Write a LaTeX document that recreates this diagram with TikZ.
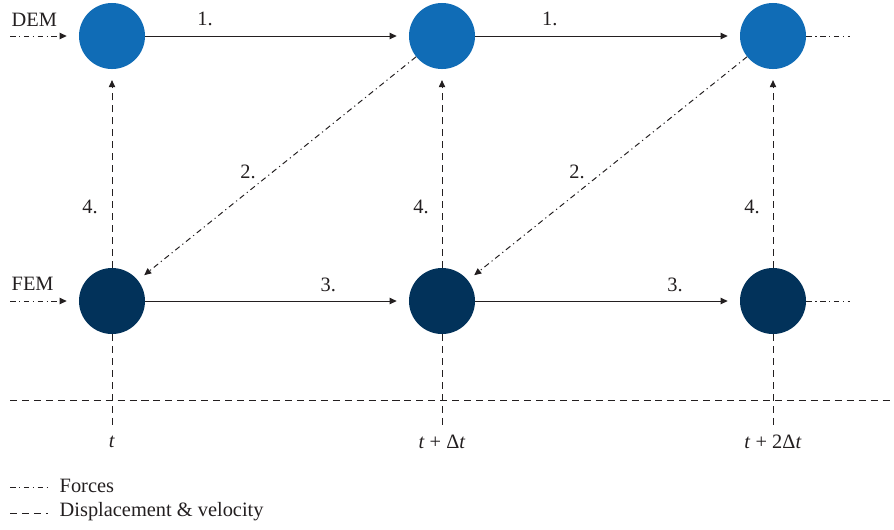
\documentclass[tikz,border=0pt]{standalone}
\usepackage{fontspec}
\setmainfont{Liberation Serif}
\usetikzlibrary{arrows.meta}
\definecolor{DEMBlue}{HTML}{106CB6}
\definecolor{FEMNavy}{HTML}{02325A}
\definecolor{LineDark}{HTML}{231F20}

\tikzset{
  demnode/.style={circle,fill=DEMBlue,minimum size=1.65cm,inner sep=0pt},
  femnode/.style={circle,fill=FEMNavy,minimum size=1.65cm,inner sep=0pt},
  lbl/.style={font=\fontsize{14.5}{17}\selectfont,text=LineDark,inner sep=1pt},
  solidline/.style={LineDark,line width=0.7pt},
  forces/.style={LineDark,line width=0.7pt,dash pattern=on 4pt off 2.5pt on 0.8pt off 2.5pt},
  dispvel/.style={LineDark,line width=0.7pt,dash pattern=on 5pt off 3.5pt},
  tip/.style={-{Triangle[length=5pt,width=4.5pt]}},
}

\begin{document}
\begin{tikzpicture}[x=0.025cm,y=-0.025cm]
\path[use as bounding box] (0,0) rectangle (894,529);
% nodes
\node[demnode] (dem1) at (112,36) {};
\node[demnode] (dem2) at (442,36) {};
\node[demnode] (dem3) at (773,36) {};
\node[femnode] (fem1) at (112,301) {};
\node[femnode] (fem2) at (442,301) {};
\node[femnode] (fem3) at (773,301) {};
\node[lbl,anchor=west] (demlbl) at (10,20) {DEM};
\node[lbl,anchor=west] (femlbl) at (10,284) {FEM};
% free ends
\coordinate (demin) at (10,36);
\coordinate (demout) at (850,36);
\coordinate (femin) at (10,301);
\coordinate (femout) at (850,301);
\coordinate (tA) at (112,427);
\coordinate (tB) at (442,427);
\coordinate (tC) at (773,427);
\coordinate (axisL) at (10,400);
\coordinate (axisR) at (894,400);
% DEM step 1.
\draw[solidline,tip,shorten >=0.3cm] (dem1) -- (dem2) node[lbl,midway,above=6pt,xshift=-1.8cm] (s1a) {1.};
\draw[solidline,tip,shorten >=0.3cm] (dem2) -- (dem3) node[lbl,midway,above=6pt,xshift=-1.44cm] (s1b) {1.};
% FEM step 3.
\draw[solidline,tip,shorten >=0.3cm] (fem1) -- (fem2) node[lbl,midway,above=5pt,xshift=1.28cm] (s3a) {3.};
\draw[solidline,tip,shorten >=0.3cm] (fem2) -- (fem3) node[lbl,midway,above=5pt,xshift=1.69cm] (s3b) {3.};
% forces DEM -> FEM (2.)
\draw[forces,tip,shorten >=0.2cm] (dem2) -- (fem1);
\draw[forces,tip,shorten >=0.2cm] (dem3) -- (fem2);
\node[lbl] (s2a) at (248,172) {2.};
\node[lbl] (s2b) at (577,172) {2.};
% displacement FEM -> DEM (4.)
\draw[dispvel,tip,shorten >=0.27cm] (fem1) -- (dem1);
\draw[dispvel,tip,shorten >=0.27cm] (fem2) -- (dem2);
\draw[dispvel,tip,shorten >=0.27cm] (fem3) -- (dem3);
\node[lbl] (s4a) at (90,207) {4.};
\node[lbl] (s4b) at (421,207) {4.};
\node[lbl] (s4c) at (752,207) {4.};
% in and out
\draw[forces,tip,shorten >=0.3cm] (demin) -- (dem1);
\draw[forces,tip,shorten >=0.3cm] (femin) -- (fem1);
\draw[forces] (dem3) -- (demout);
\draw[forces] (fem3) -- (femout);
% time axis
\draw[dispvel] (fem1) -- (tA);
\draw[dispvel] (fem2) -- (tB);
\draw[dispvel] (fem3) -- (tC);
\draw[dispvel] (axisL) -- (axisR);
\node[lbl] (timeA) at (112,442) {\textit{t}};
\node[lbl] (timeB) at (442,442) {\textit{t} + Δ\textit{t}};
\node[lbl] (timeC) at (773,442) {\textit{t} + 2Δ\textit{t}};
% legend
\coordinate (legFa) at (10,487);
\coordinate (legFb) at (48,487);
\coordinate (legDa) at (10,513);
\coordinate (legDb) at (48,513);
\draw[forces] (legFa) -- (legFb);
\draw[dispvel] (legDa) -- (legDb);
\node[lbl,anchor=west] (legF) at (58,486) {Forces};
\node[lbl,anchor=west] (legD) at (58,512) {Displacement \& velocity};
\end{tikzpicture}
\end{document}
